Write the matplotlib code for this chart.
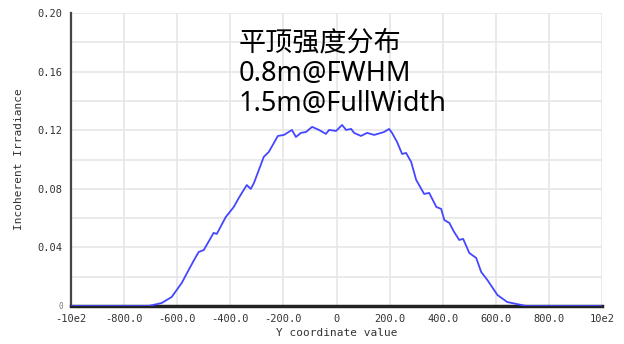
import matplotlib.pyplot as plt
from matplotlib.ticker import MultipleLocator

plt.rcParams['font.family'] = ['Noto Sans CJK SC', 'DejaVu Sans']

# curve
y_coord = [-1000, -708, -659, -621, -583, -557, -530, -519, -500, -474, -463, -451,
           -417, -387, -368, -338, -323, -311, -274, -255, -236, -221, -198, -168,
           -153, -134, -115, -92, -66, -40, -28, -2, 21, 36, 55, 66, 92, 115, 142,
           168, 179, 198, 209, 228, 247, 262, 281, 300, 311, 330, 349, 376, 394,
           406, 425, 443, 462, 477, 500, 526, 545, 568, 606, 643, 677, 715, 1000]
irradiance = [0.0, 0.0, 0.002, 0.0061, 0.0157, 0.0246, 0.0335, 0.0369, 0.0382, 0.0464,
              0.0499, 0.0492, 0.0608, 0.0676, 0.0738, 0.0826, 0.0799, 0.0840, 0.1018,
              0.1052, 0.1113, 0.1161, 0.1168, 0.1202, 0.1154, 0.1182, 0.1188, 0.1223,
              0.1202, 0.1175, 0.1202, 0.1195, 0.1236, 0.1202, 0.1209, 0.1182, 0.1161,
              0.1182, 0.1168, 0.1182, 0.1188, 0.1209, 0.1182, 0.1120, 0.1038, 0.1045,
              0.0984, 0.0861, 0.0826, 0.0765, 0.0772, 0.0676, 0.0663, 0.0587, 0.0567,
              0.0505, 0.0451, 0.0458, 0.0362, 0.0328, 0.0232, 0.0178, 0.0075, 0.0027,
              0.0014, 0.0, 0.0]

x_ticks = [-1000, -800, -600, -400, -200, 0, 200, 400, 600, 800, 1000]
x_labels = ['-10e2', '-800.0', '-600.0', '-400.0', '-200.0', '0',
            '200.0', '400.0', '600.0', '800.0', '10e2']
y_ticks = [0, 0.04, 0.08, 0.12, 0.16, 0.20]
y_labels = ['0', '0.04', '0.08', '0.12', '0.16', '0.20']

note = '平顶强度分布\n0.8m@FWHM\n1.5m@FullWidth'

fig = plt.figure(figsize=(6.24, 3.44), dpi=100)
ax = fig.add_axes([0.1138, 0.1105, 0.851, 0.8515])

ax.plot(y_coord, irradiance, color='#4646ff', linewidth=1.3, zorder=3)

ax.set_xlim(-1000, 1000)
ax.set_ylim(0, 0.20)
ax.set_xticks(x_ticks)
ax.set_xticklabels(x_labels, family='DejaVu Sans Mono', fontsize=7.5, color='#333333')
ax.set_yticks(y_ticks)
ax.set_yticklabels(y_labels, family='DejaVu Sans Mono', fontsize=7.5, color='#333333')
ax.get_yticklabels()[0].set_fontsize(5.5)
ax.get_yticklabels()[0].set_color('#777777')
ax.yaxis.set_minor_locator(MultipleLocator(0.02))
ax.tick_params(which='both', length=0, pad=6)

ax.grid(which='both', color='#e6e6e6', linewidth=1.2, zorder=0)
ax.set_axisbelow(True)

for side in ['top', 'right']:
    ax.spines[side].set_visible(False)
ax.spines['left'].set_color('#444444')
ax.spines['left'].set_linewidth(1.6)
ax.spines['bottom'].set_color('#222222')
ax.spines['bottom'].set_linewidth(2.5)

ax.set_xlabel('Y coordinate value', family='DejaVu Sans Mono', fontsize=8,
              color='#333333', labelpad=3)
ax.set_ylabel('Incoherent Irradiance', family='DejaVu Sans Mono', fontsize=8,
              color='#333333', labelpad=10)

ax.text(-368, 0.189, note, fontsize=19.5, va='top', ha='left', linespacing=1.12,
        color='black', zorder=4, family=['Noto Sans', 'Noto Sans CJK SC'])

fig.savefig('out.png', dpi=100)
